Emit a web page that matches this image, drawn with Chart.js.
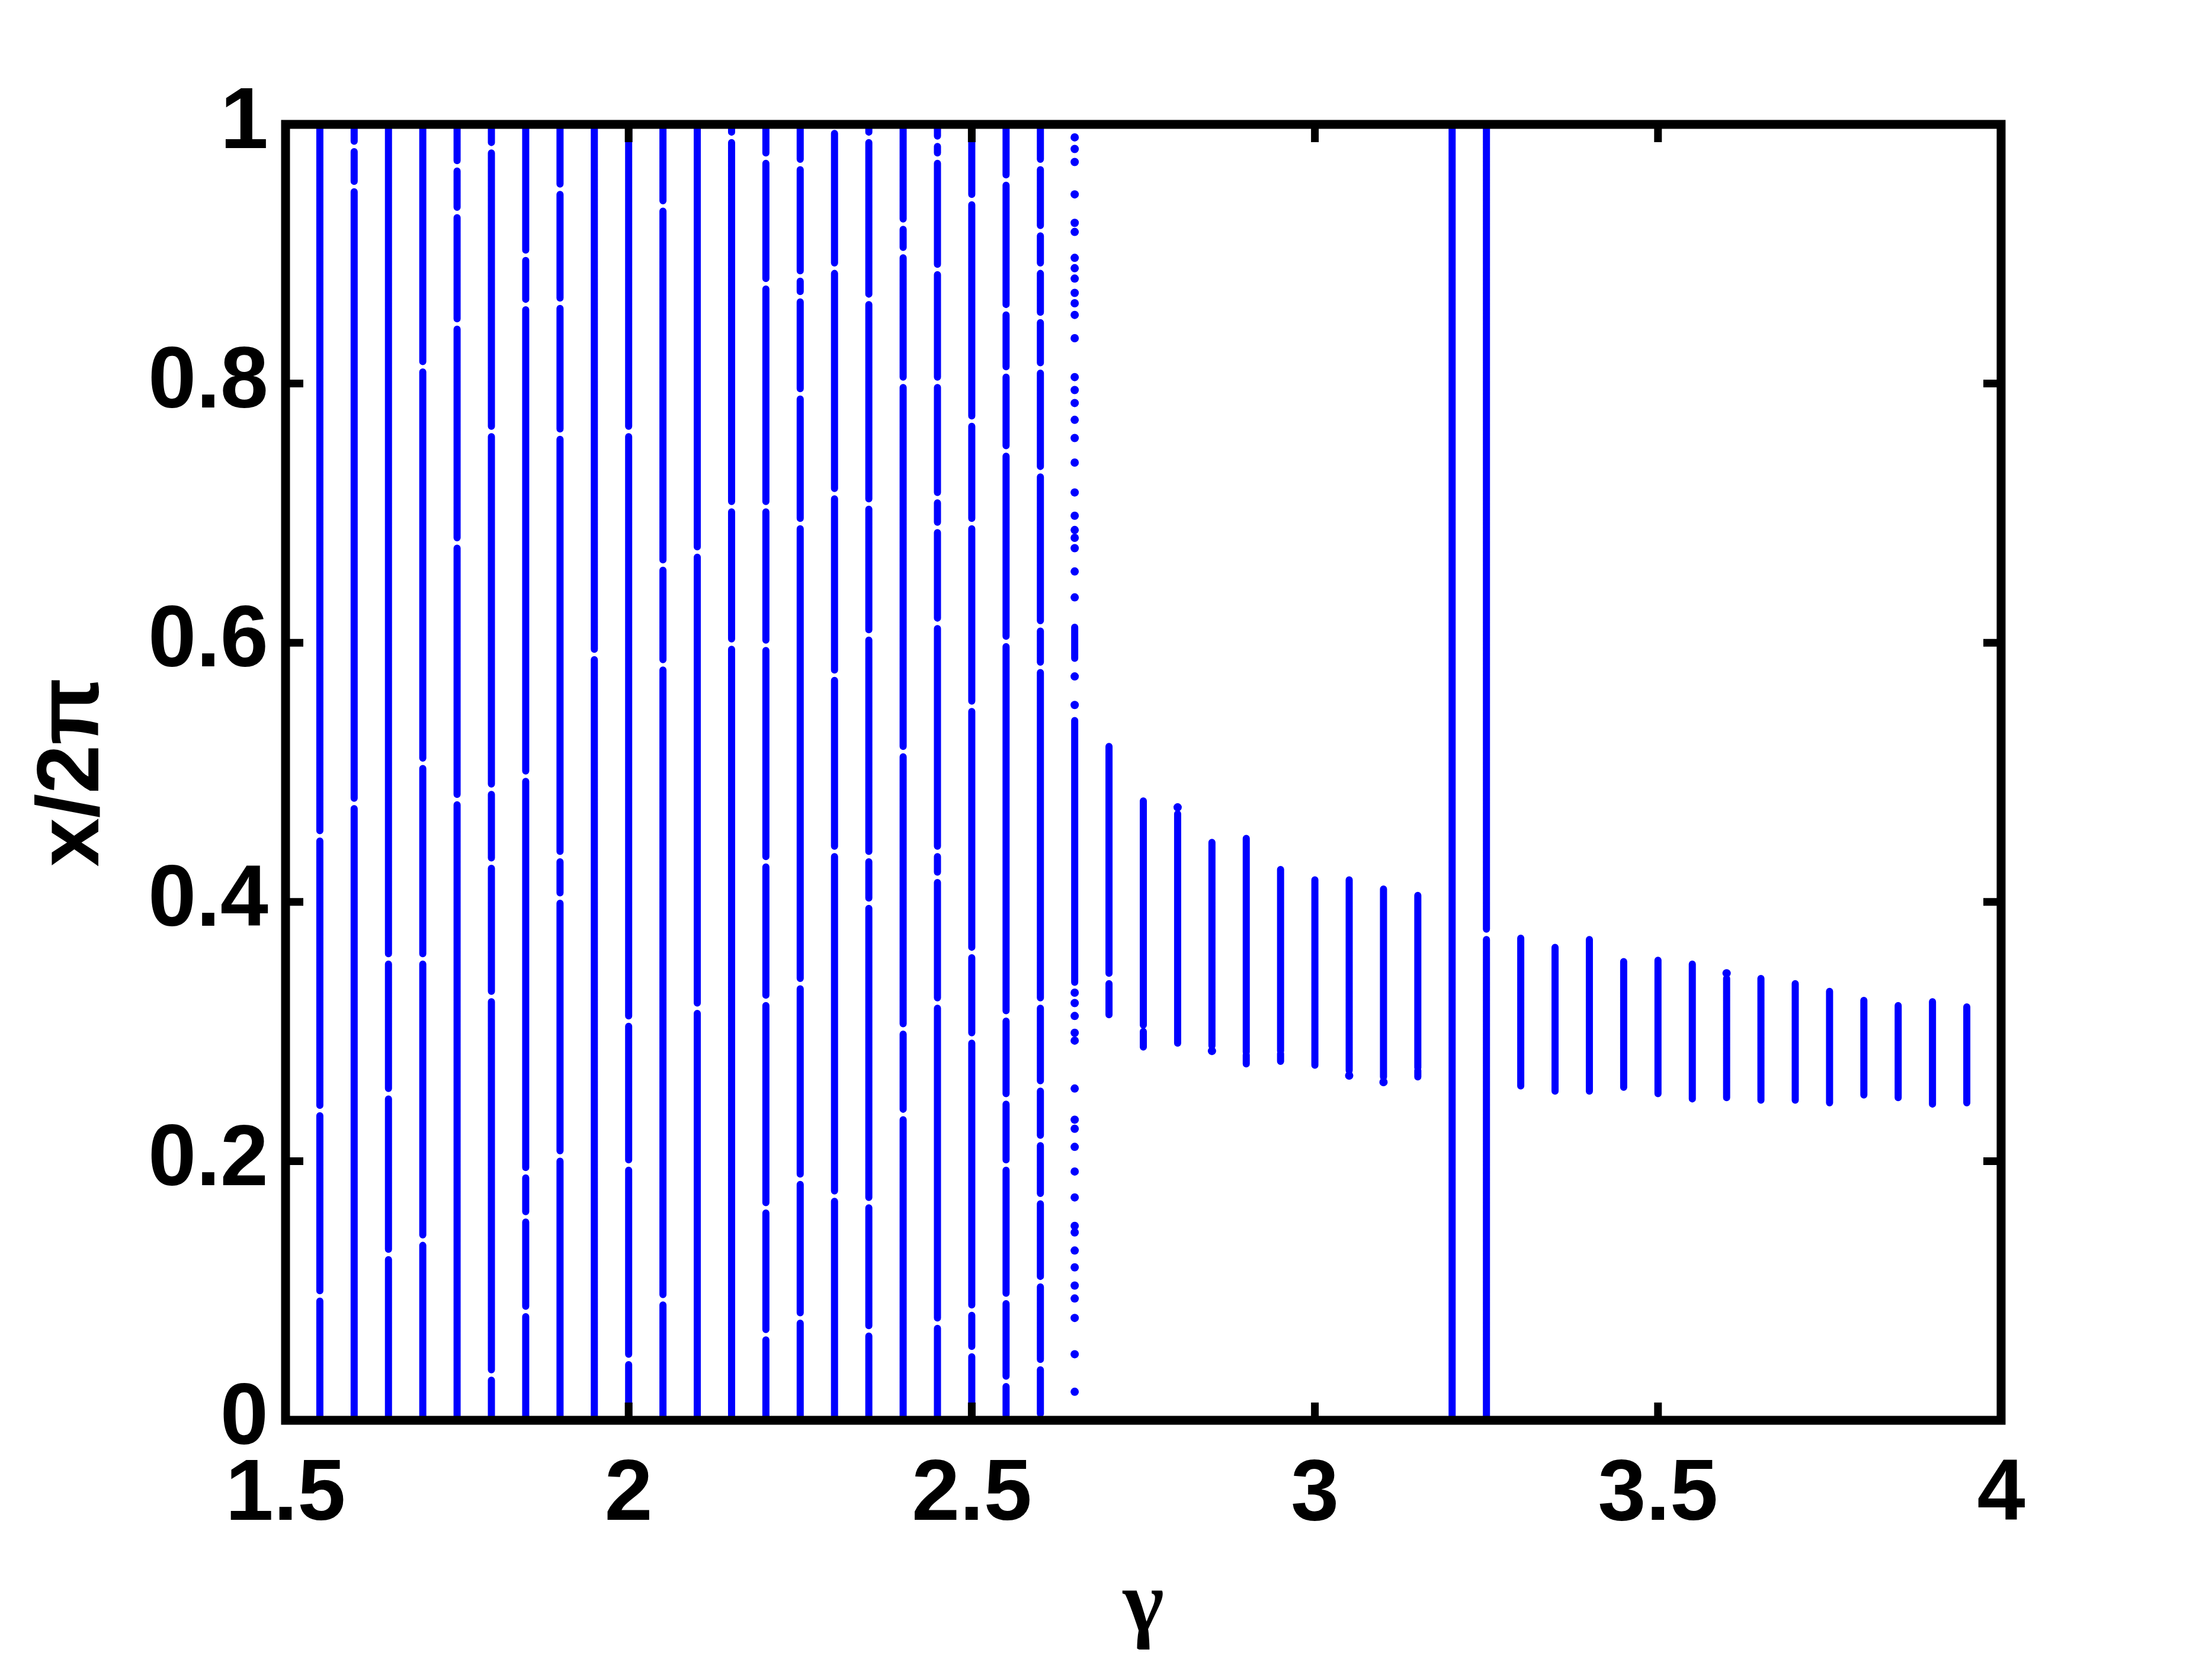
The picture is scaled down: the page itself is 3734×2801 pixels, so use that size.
<!DOCTYPE html>
<html>
<head>
<meta charset="utf-8">
<script src="https://cdn.jsdelivr.net/npm/chart.js@4.4.1/dist/chart.umd.min.js"></script>
<style>
  html, body { margin: 0; padding: 0; background: #fff; }
  canvas { display: block; }
</style>
</head>
<body>
<canvas id="myChart" width="3734" height="2801"></canvas>
<script>
// tick labels
var xTicks = [1.5, 2, 2.5, 3, 3.5, 4];
var xTickLabels = ["1.5", "2", "2.5", "3", "3.5", "4"];
var yTicks = [0, 0.2, 0.4, 0.6, 0.8, 1];
var yTickLabels = ["0", "0.2", "0.4", "0.6", "0.8", "1"];

// dense parts of each column: gamma, lowest and highest x/2pi
var segGamma = [1.55, 1.60, 1.65, 1.70, 1.75, 1.80, 1.85, 1.90, 1.95, 2.00,
                2.05, 2.10, 2.15, 2.20, 2.25, 2.30, 2.35, 2.40, 2.45, 2.50,
                2.55, 2.60, 2.65, 2.65,
                2.70, 2.70, 2.75, 2.75, 2.80, 2.85, 2.90, 2.90, 2.95, 2.95,
                3.00, 3.05, 3.10, 3.15, 3.15, 3.20, 3.25,
                3.30, 3.35, 3.40, 3.45, 3.50, 3.55, 3.60, 3.65, 3.70, 3.75,
                3.80, 3.85, 3.90, 3.95];
var segLow = [0, 0, 0, 0, 0, 0, 0, 0, 0, 0,
              0, 0, 0, 0, 0, 0, 0, 0, 0, 0,
              0.004, 0.005, 0.338, 0.588,
              0.345, 0.313, 0.305, 0.288, 0.291, 0.289, 0.284, 0.275, 0.285, 0.277,
              0.274, 0.270, 0.265, 0.272, 0.265, 0, 0,
              0.258, 0.254, 0.254, 0.257, 0.252, 0.248, 0.249, 0.247, 0.247, 0.245,
              0.251, 0.249, 0.244, 0.245];
var segHigh = [1, 1, 1, 1, 1, 1, 1, 1, 1, 1,
               1, 1, 1, 1, 1, 0.993, 1, 1, 1, 1,
               1, 1, 0.540, 0.612,
               0.520, 0.337, 0.478, 0.300, 0.468, 0.446, 0.449, 0.282, 0.425, 0.283,
               0.417, 0.417, 0.410, 0.405, 0.270, 1, 1,
               0.372, 0.365, 0.371, 0.354, 0.355, 0.352, 0.341, 0.341, 0.337, 0.331,
               0.324, 0.320, 0.323, 0.319];

// small white breaks inside the long columns
var gapGamma = [1.55, 1.55, 1.55,
                1.60, 1.60, 1.60,
                1.65, 1.65, 1.65,
                1.70, 1.70, 1.70, 1.70,
                1.75, 1.75, 1.75, 1.75, 1.75,
                1.80, 1.80, 1.80, 1.80, 1.80, 1.80,
                1.85, 1.85, 1.85, 1.85, 1.85, 1.85,
                1.90, 1.90, 1.90, 1.90, 1.90, 1.90,
                1.95,
                2.00, 2.00, 2.00, 2.00,
                2.05, 2.05, 2.05, 2.05,
                2.10, 2.10,
                2.15, 2.15, 2.15,
                2.20, 2.20, 2.20, 2.20, 2.20, 2.20, 2.20, 2.20,
                2.25, 2.25, 2.25, 2.25, 2.25, 2.25, 2.25, 2.25,
                2.30, 2.30, 2.30, 2.30, 2.30,
                2.35, 2.35, 2.35, 2.35, 2.35, 2.35, 2.35, 2.35,
                2.40, 2.40, 2.40, 2.40, 2.40, 2.40,
                2.45, 2.45, 2.45, 2.45, 2.45, 2.45, 2.45, 2.45, 2.45, 2.45, 2.45,
                2.50, 2.50, 2.50, 2.50, 2.50, 2.50, 2.50, 2.50,
                2.55, 2.55, 2.55, 2.55, 2.55, 2.55, 2.55, 2.55, 2.55, 2.55,
                2.60, 2.60, 2.60, 2.60, 2.60, 2.60, 2.60, 2.60, 2.60, 2.60, 2.60, 2.60, 2.60, 2.60,
                3.25];
var gapY = [0.451, 0.239, 0.096,
            0.983, 0.952, 0.476,
            0.356, 0.252, 0.128,
            0.813, 0.507, 0.356, 0.139,
            0.968, 0.932, 0.846, 0.677, 0.479,
            0.982, 0.763, 0.487, 0.430, 0.327, 0.035,
            0.899, 0.861, 0.497, 0.191, 0.157, 0.084,
            0.950, 0.862, 0.761, 0.435, 0.403, 0.204,
            0.591,
            0.763, 0.308, 0.197, 0.047,
            0.937, 0.660, 0.583, 0.093,
            0.670, 0.318,
            0.990, 0.705, 0.599,
            0.974, 0.877, 0.705, 0.598, 0.431, 0.324, 0.164, 0.066,
            0.969, 0.883, 0.867, 0.792, 0.692, 0.337, 0.186, 0.079,
            0.889, 0.715, 0.575, 0.439, 0.173,
            0.990, 0.865, 0.707, 0.606, 0.435, 0.399, 0.168, 0.069,
            0.923, 0.901, 0.801, 0.516, 0.302, 0.236,
            0.987, 0.974, 0.888, 0.801, 0.712, 0.689, 0.615, 0.439, 0.419, 0.322, 0.075,
            0.942, 0.771, 0.692, 0.551, 0.361, 0.295, 0.085, 0.053,
            0.957, 0.857, 0.809, 0.748, 0.601, 0.312, 0.248, 0.197, 0.094, 0.030,
            0.969, 0.918, 0.889, 0.851, 0.812, 0.732, 0.613, 0.581, 0.322, 0.258, 0.216, 0.171, 0.107, 0.043,
            0.375];

// single scattered points
var dotGamma = [2.65, 2.65, 2.65, 2.65, 2.65, 2.65, 2.65, 2.65, 2.65, 2.65,
                2.65, 2.65, 2.65, 2.65, 2.65, 2.65, 2.65, 2.65, 2.65, 2.65,
                2.65, 2.65, 2.65, 2.65, 2.65, 2.65, 2.65, 2.65, 2.65, 2.65,
                2.65, 2.65, 2.65, 2.65, 2.65, 2.65, 2.65, 2.65, 2.65, 2.65,
                2.65, 2.65, 2.65, 2.65, 2.65, 2.65, 2.65, 2.65,
                2.80, 2.85, 3.05, 3.10, 3.60];
var dotY = [0.990, 0.981, 0.971, 0.946, 0.924, 0.917, 0.897, 0.889, 0.881, 0.870,
            0.862, 0.853, 0.835, 0.805, 0.795, 0.785, 0.772, 0.758, 0.739, 0.716,
            0.698, 0.687, 0.681, 0.673, 0.655, 0.635, 0.574, 0.552, 0.330, 0.322,
            0.312, 0.299, 0.293, 0.256, 0.232, 0.225, 0.211, 0.192, 0.172, 0.150,
            0.145, 0.131, 0.118, 0.104, 0.094, 0.079, 0.051, 0.022,
            0.473, 0.285, 0.266, 0.261, 0.345];

var blue = "#0000ff";
var gapHalf = 0.004;

var segData = [];
function addSegment(g, lo, hi) {
  segData.push({x: g, y: lo});
  segData.push({x: g, y: hi});
  segData.push({x: g, y: null});
}

for (var i = 0; i < segGamma.length; i++) {
  var cuts = [];
  for (var k = 0; k < gapGamma.length; k++) {
    if (gapGamma[k] === segGamma[i] && gapY[k] > segLow[i] && gapY[k] < segHigh[i]) {
      cuts.push(gapY[k]);
    }
  }
  cuts.sort(function(a, b) { return a - b; });
  var start = segLow[i];
  for (var c = 0; c < cuts.length; c++) {
    addSegment(segGamma[i], start, cuts[c] - gapHalf);
    start = cuts[c] + gapHalf;
  }
  addSegment(segGamma[i], start, segHigh[i]);
}

var dotData = [];
for (var j = 0; j < dotGamma.length; j++) {
  dotData.push({x: dotGamma[j], y: dotY[j]});
}

// matlab style box with inward ticks on all four sides
var boxPlugin = {
  id: "matlabBox",
  afterDraw: function(chart) {
    var ctx = chart.ctx;
    var a = chart.chartArea;
    var xs = chart.scales.x;
    var ys = chart.scales.y;
    var len = 30;
    ctx.save();
    ctx.strokeStyle = "#000";
    ctx.lineWidth = 13;
    ctx.beginPath();
    xTicks.forEach(function(v) {
      var px = xs.getPixelForValue(v);
      ctx.moveTo(px, a.bottom); ctx.lineTo(px, a.bottom - len);
      ctx.moveTo(px, a.top); ctx.lineTo(px, a.top + len);
    });
    yTicks.forEach(function(v) {
      var py = ys.getPixelForValue(v);
      ctx.moveTo(a.left, py); ctx.lineTo(a.left + len, py);
      ctx.moveTo(a.right, py); ctx.lineTo(a.right - len, py);
    });
    ctx.stroke();
    ctx.lineWidth = 15;
    ctx.strokeRect(a.left, a.top, a.right - a.left, a.bottom - a.top);
    ctx.restore();
  }
};

var tickFont = {family: "Liberation Sans", weight: "bold", size: 146};

var ctx = document.getElementById("myChart").getContext("2d");
var mychart = new Chart(ctx, {
  type: "scatter",
  data: {
    datasets: [{
      data: segData,
      showLine: true,
      spanGaps: false,
      borderColor: blue,
      borderWidth: 12,
      borderCapStyle: "round",
      pointRadius: 0
    }, {
      data: dotData,
      showLine: false,
      pointRadius: 7,
      pointBorderWidth: 0,
      backgroundColor: blue,
      borderColor: blue
    }]
  },
  options: {
    responsive: false,
    animation: false,
    devicePixelRatio: 1,
    layout: {padding: {left: 0, top: 210, right: 356, bottom: 0}},
    plugins: {legend: {display: false}, tooltip: {enabled: false}},
    scales: {
      x: {
        type: "linear",
        min: 1.5,
        max: 4,
        grid: {display: false, drawTicks: false},
        border: {display: false},
        afterBuildTicks: function(s) { s.ticks = xTicks.map(function(v) { return {value: v}; }); },
        afterFit: function(s) { s.height = 403; },
        ticks: {
          padding: 40,
          maxRotation: 0,
          autoSkip: false,
          color: "#000",
          font: tickFont,
          callback: function(v) { return xTickLabels[xTicks.indexOf(v)]; }
        },
        title: {
          display: true,
          text: "γ",
          color: "#000",
          font: {family: "Liberation Serif", weight: "bold", size: 148, lineHeight: 1.16},
          padding: {top: 0, bottom: 0}
        }
      },
      y: {
        type: "linear",
        min: 0,
        max: 1,
        grid: {display: false, drawTicks: false},
        border: {display: false},
        afterBuildTicks: function(s) { s.ticks = yTicks.map(function(v) { return {value: v}; }); },
        afterFit: function(s) { s.width = 482; },
        ticks: {
          padding: 29,
          autoSkip: false,
          color: "#000",
          font: tickFont,
          callback: function(v) { return yTickLabels[yTicks.indexOf(v)]; }
        },
        title: {
          display: true,
          text: "x/2π",
          color: "#000",
          font: {family: "Liberation Sans", weight: "bold", size: 148, lineHeight: 1.2},
          padding: {top: 36, bottom: 0}
        }
      }
    }
  },
  plugins: [boxPlugin]
});
</script>
</body>
</html>
